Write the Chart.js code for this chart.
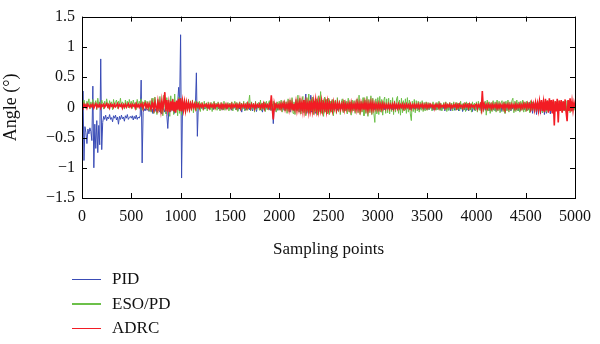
<!DOCTYPE html>
<html>
<head>
<meta charset="utf-8">
<script src="https://cdn.jsdelivr.net/npm/chart.js@4/dist/chart.umd.min.js"></script>
<style>
  html, body { margin: 0; padding: 0; background: #fff; }
  #wrap { position: relative; width: 600px; height: 344px; }
  #legend { position: absolute; left: 72px; top: 267px; font: 17px 'Liberation Serif', serif; color: #111; }
  .row { display: flex; align-items: center; height: 24.5px; }
  .swatch { width: 29px; height: 1.5px; margin-right: 11px; }
</style>
</head>
<body>
<div id="wrap">
  <canvas id="chart" width="600" height="344"></canvas>
  <div id="legend"></div>
</div>
<script>
'use strict'

// sampling index, one value every 10 points
var samples = []
for (var s = 0; s <= 5000; s += 10) samples.push(s)

var xTicks = [0, 500, 1000, 1500, 2000, 2500, 3000, 3500, 4000, 4500, 5000]
var yTicks = [-1.5, -1, -0.5, 0, 0.5, 1, 1.5]

var pid = [
  0.02, 0.27, -0.88, -0.32, -0.42, -0.6, -0.36, -0.44, -0.34, -0.4,
  -0.55, 0.35, -1.0, -0.28, -0.68, -0.22, -0.75, -0.3, -0.62, 0.8,
  -0.7, -0.25, -0.15, -0.2, -0.13, -0.22, -0.16, -0.19, -0.12, -0.2,
  -0.17, -0.24, -0.14, -0.18, -0.13, -0.21, -0.16, -0.28, -0.15, -0.2,
  -0.13, -0.19, -0.16, -0.23, -0.14, -0.18, -0.12, -0.2, -0.17, -0.15,

  -0.18, -0.14, -0.21, -0.15, -0.19, -0.13, -0.2, -0.16, -0.18, -0.14,
  0.45, -0.92, -0.08, -0.02, -0.06, 0.0, -0.05, -0.03, -0.07, -0.02,
  -0.06, -0.03, -0.1, -0.04, -0.07, -0.02, -0.09, -0.05, -0.03, -0.08,
  -0.04, -0.11, -0.05, -0.02, -0.08, -0.04, -0.12, -0.35, -0.06, -0.03,
  -0.07, 0.02, -0.05, 0.04, -0.1, 0.03, -0.04, 0.06, 0.33, 0.05,

  1.2, -1.17, 0.1, 0.04, 0.07, 0.02, 0.06, 0.03, 0.08, 0.01,
  0.05, 0.02, 0.07, 0.03, 0.04, 0.01, 0.57, -0.48, 0.03, 0.0,
  0.02, -0.02, 0.03, 0.0, -0.03, 0.02, -0.01, 0.03, -0.02, 0.01,
  -0.03, 0.02, 0.0, -0.04, 0.01, -0.02, 0.03, -0.01, 0.0, -0.03,
  0.02, -0.01, -0.04, 0.01, 0.0, -0.02, 0.03, -0.03, 0.01, -0.02,

  -0.03, 0.02, -0.05, 0.01, -0.02, 0.03, -0.04, 0.0, -0.06, 0.02,
  -0.03, 0.01, -0.08, 0.02, -0.02, 0.03, -0.05, 0.0, -0.03, 0.02,
  -0.04, 0.01, -0.02, -0.06, 0.02, -0.03, 0.01, -0.07, 0.02, -0.01,
  0.03, -0.04, 0.0, -0.08, 0.02, -0.03, -0.06, 0.01, -0.02, 0.03,
  -0.04, 0.02, -0.05, 0.05, -0.27, 0.02, -0.03, 0.01, -0.05, 0.02,

  0.02, -0.04, 0.03, -0.02, 0.04, -0.05, 0.02, -0.03, 0.05, -0.02,
  0.06, -0.08, 0.04, -0.03, 0.05, -0.06, 0.03, -0.04, 0.07, -0.05,
  0.06, -0.08, 0.04, -0.06, 0.05, -0.03, 0.08, 0.22, -0.1, 0.04,
  0.05, -0.06, 0.2, -0.08, 0.06, -0.04, 0.09, -0.1, 0.05, -0.05,
  0.08, -0.04, 0.05, -0.06, 0.04, -0.03, 0.06, -0.05, 0.03, -0.04,

  0.04, -0.03, 0.06, -0.07, 0.03, -0.04, 0.05, -0.02, 0.03, -0.05,
  0.02, -0.03, 0.04, -0.02, 0.03, -0.04, 0.02, -0.03, 0.03, -0.02,
  0.04, -0.03, 0.02, -0.04, 0.03, -0.02, 0.02, -0.03, 0.04, -0.02,
  0.03, -0.04, 0.02, -0.03, 0.03, -0.02, 0.04, -0.03, 0.02, -0.04,
  0.03, -0.02, 0.02, -0.03, 0.04, -0.02, 0.03, -0.04, 0.02, -0.03,

  0.02, -0.03, 0.03, -0.02, 0.04, -0.03, 0.02, -0.04, 0.03, -0.02,
  0.02, -0.03, 0.04, -0.02, 0.03, -0.04, 0.02, -0.03, 0.03, -0.02,
  0.04, -0.03, 0.02, -0.02, 0.03, -0.04, 0.02, -0.03, 0.04, -0.02,
  0.03, -0.03, 0.02, -0.04, 0.03, -0.02, 0.02, -0.03, 0.04, -0.02,
  0.03, -0.04, 0.02, -0.03, 0.03, -0.02, 0.02, -0.04, 0.03, -0.03,

  -0.03, 0.02, -0.04, 0.03, -0.02, 0.02, -0.05, 0.03, -0.03, 0.02,
  -0.04, 0.03, -0.02, 0.02, -0.05, 0.03, -0.03, 0.02, -0.06, 0.03,
  -0.04, 0.02, -0.05, 0.03, -0.06, 0.02, -0.03, 0.03, -0.05, 0.02,
  -0.04, 0.03, -0.06, 0.02, -0.03, 0.03, -0.07, 0.02, -0.04, 0.03,
  -0.05, 0.02, -0.06, 0.03, -0.04, 0.02, -0.07, 0.03, -0.05, 0.02,

  0.02, -0.05, 0.03, -0.04, 0.02, -0.06, 0.03, -0.03, 0.02, -0.05,
  0.04, -0.04, 0.02, -0.06, 0.03, -0.05, 0.02, -0.04, 0.03, -0.06,
  0.02, -0.05, 0.04, -0.03, 0.02, -0.07, 0.03, -0.04, 0.02, -0.06,
  0.03, -0.05, 0.02, -0.04, 0.04, -0.06, 0.02, -0.03, 0.03, -0.05,
  0.02, -0.04, 0.03, -0.06, 0.02, -0.05, 0.04, -0.03, 0.02, -0.04,

  0.03, -0.05, 0.06, -0.04, 0.08, -0.07, 0.05, -0.1, 0.07, -0.08,
  0.09, -0.12, 0.06, -0.1, 0.08, -0.11, 0.05, -0.09, 0.07, -0.12,
  0.06, -0.1, 0.08, -0.08, 0.05, -0.11, 0.07, -0.09, 0.04, -0.07,
  0.05, -0.06, 0.03, -0.08, 0.04, -0.05, 0.06, -0.04, 0.03, -0.06,
  0.04, -0.05, 0.02, -0.04, 0.05, -0.03, 0.02, -0.05, 0.03, -0.02,
  0.0
]

var esoPd = [
  0.08, 0.0, 0.12, 0.03, -0.02, 0.1, 0.05, 0.14, -0.03, 0.09,
  0.02, 0.13, -0.01, 0.07, 0.11, -0.04, 0.15, 0.04, 0.09, 0.0,
  0.12, 0.06, -0.03, 0.1, 0.02, 0.14, 0.05, -0.02, 0.11, 0.03,
  0.09, -0.04, 0.13, 0.01, 0.08, 0.12, -0.02, 0.1, 0.04, 0.15,
  0.0, 0.09, 0.06, -0.03, 0.12, 0.02, 0.1, -0.01, 0.13, 0.05,

  0.1, -0.02, 0.12, 0.04, 0.08, -0.04, 0.13, 0.01, 0.1, 0.06,
  0.14, -0.05, 0.09, 0.03, 0.12, -0.03, 0.1, 0.05, -0.06, 0.11,
  -0.08, 0.15, 0.02, -0.1, 0.17, 0.04, -0.12, 0.13, -0.06, 0.18,
  -0.09, 0.1, -0.14, 0.2, 0.03, -0.11, 0.16, -0.07, 0.12, -0.15,
  0.19, -0.05, 0.14, -0.12, 0.22, -0.08, 0.1, -0.14, 0.17, -0.1,

  0.15, -0.13, 0.11, -0.06, 0.14, -0.1, 0.08, -0.04, 0.13, -0.08,
  0.1, -0.05, 0.12, -0.09, 0.06, 0.11, -0.06, 0.09, -0.03, 0.1,
  -0.07, 0.08, 0.02, -0.05, 0.1, -0.03, 0.07, -0.06, 0.09, 0.01,
  -0.04, 0.08, -0.07, 0.06, 0.1, -0.03, 0.07, -0.05, 0.09, 0.0,
  -0.06, 0.08, 0.02, -0.04, 0.1, -0.05, 0.06, -0.02, 0.08, -0.06,

  0.07, -0.03, 0.09, -0.06, 0.05, 0.1, -0.04, 0.08, -0.07, 0.06,
  0.09, -0.05, 0.07, -0.03, 0.1, -0.06, 0.04, 0.08, -0.05, 0.07,
  0.2, -0.06, 0.09, -0.03, 0.07, -0.08, 0.1, -0.04, 0.06, 0.08,
  -0.05, 0.12, -0.06, 0.07, -0.03, 0.09, -0.07, 0.1, -0.04, 0.06,
  0.11, -0.05, 0.08, -0.06, 0.1, -0.03, 0.07, -0.08, 0.09, -0.05,

  0.1, -0.05, 0.12, -0.08, 0.07, 0.11, -0.06, 0.09, -0.1, 0.14,
  -0.07, 0.12, -0.04, 0.16, -0.1, 0.09, -0.12, 0.13, -0.06, 0.2,
  -0.08, 0.15, -0.11, 0.1, 0.18, -0.09, 0.12, -0.14, 0.16, -0.07,
  0.22, -0.1, 0.13, -0.06, 0.17, -0.12, 0.1, -0.08, 0.14, -0.13,
  0.19, -0.07, 0.26, -0.1, 0.12, -0.15, 0.17, -0.08, 0.13, -0.11,

  0.15, -0.12, 0.1, -0.08, 0.13, -0.14, 0.09, 0.12, -0.1, 0.16,
  -0.07, 0.11, -0.12, 0.08, 0.14, -0.09, 0.12, -0.06, 0.1, -0.11,
  0.15, -0.08, 0.09, -0.13, 0.12, -0.06, 0.11, -0.1, 0.08, 0.14,
  -0.09, 0.2, -0.12, 0.1, -0.08, 0.16, -0.14, 0.12, -0.1, 0.18,
  -0.15, 0.13, -0.09, 0.19, -0.12, 0.15, -0.1, -0.25, 0.14, -0.11,

  0.16, -0.12, 0.18, -0.08, 0.13, -0.13, 0.11, 0.17, -0.1, 0.14,
  -0.09, 0.15, -0.11, 0.12, -0.07, 0.16, -0.12, 0.1, -0.08, 0.14,
  0.18, -0.1, 0.12, -0.13, 0.15, -0.09, 0.11, -0.06, 0.14, -0.1,
  0.16, -0.08, 0.12, -0.11, -0.22, 0.1, -0.07, 0.13, -0.09, 0.11,
  -0.06, 0.1, -0.08, 0.09, -0.05, 0.11, -0.07, 0.08, -0.06, 0.09,

  -0.05, 0.08, -0.04, 0.07, 0.02, -0.06, 0.09, -0.03, 0.06, -0.05,
  0.08, -0.04, 0.1, -0.05, 0.07, -0.06, 0.03, 0.08, -0.04, 0.09,
  -0.07, 0.06, -0.05, 0.08, -0.03, 0.07, -0.06, 0.09, 0.01, -0.05,
  0.08, -0.04, 0.07, -0.06, 0.1, -0.03, 0.06, -0.05, 0.08, -0.07,
  0.09, -0.04, 0.07, -0.05, 0.06, -0.08, 0.09, -0.03, 0.07, -0.06,

  0.09, -0.08, 0.1, -0.05, 0.08, -0.1, 0.11, -0.07, 0.06, 0.1,
  -0.13, 0.12, -0.06, 0.09, -0.1, 0.08, -0.07, 0.11, -0.05, 0.09,
  -0.08, 0.12, -0.06, 0.1, -0.09, 0.07, 0.11, -0.07, 0.09, -0.1,
  0.1, -0.06, 0.12, -0.08, 0.09, -0.05, 0.11, 0.15, -0.09, 0.1,
  -0.07, 0.12, -0.06, 0.09, -0.08, 0.1, -0.05, 0.12, -0.08, 0.09,

  -0.07, 0.1, -0.06, 0.08, -0.09, 0.11, -0.05, 0.09, 0.03, -0.08,
  0.07, -0.06, 0.1, -0.07, 0.12, -0.05, 0.08, -0.09, 0.1, -0.06,
  0.09, -0.08, 0.11, -0.05, 0.08, -0.06, 0.12, -0.07, 0.09, -0.1,
  0.1, -0.06, 0.08, -0.09, 0.11, -0.05, 0.07, -0.08, 0.1, -0.06,
  0.09, -0.07, 0.11, -0.05, 0.08, -0.09, 0.1, -0.06, 0.08, -0.05,
  0.03
]

var adrc = [
  0.03, 0.0, 0.05, 0.01, 0.04, -0.01, 0.05, 0.02, 0.0, 0.04,
  0.01, 0.05, -0.01, 0.03, 0.06, 0.0, 0.04, 0.01, 0.05, -0.01,
  0.04, 0.02, 0.05, 0.0, 0.03, 0.06, 0.01, 0.04, -0.01, 0.05,
  0.02, 0.04, 0.0, 0.05, 0.01, 0.03, 0.06, 0.0, 0.04, 0.02,
  0.05, -0.01, 0.04, 0.01, 0.05, 0.0, 0.03, 0.06, 0.01, 0.04,

  0.0, 0.05, 0.02, 0.04, -0.01, 0.06, 0.01, 0.04, 0.0, 0.05,
  0.02, 0.06, -0.02, 0.04, 0.07, 0.0, 0.05, -0.01, 0.06, 0.02,
  -0.03, 0.08, 0.01, -0.04, 0.09, 0.0, -0.05, 0.1, -0.02, 0.07,
  -0.06, 0.11, -0.03, 0.09, 0.25, -0.07, 0.12, -0.04, 0.08, -0.08,
  0.1, -0.05, 0.13, -0.07, 0.09, -0.09, 0.11, -0.04, 0.14, -0.06,

  0.15, -0.07, 0.1, -0.04, 0.09, -0.05, 0.08, -0.02, 0.07, -0.03,
  0.06, -0.01, 0.07, 0.0, 0.05, -0.02, 0.06, 0.01, 0.05, -0.01,
  0.04, 0.01, 0.05, -0.01, 0.04, 0.02, 0.05, 0.0, 0.04, -0.01,
  0.05, 0.01, 0.04, 0.0, 0.05, -0.01, 0.04, 0.02, 0.05, 0.0,
  0.04, -0.01, 0.05, 0.01, 0.04, 0.0, 0.05, -0.01, 0.04, 0.01,

  0.04, -0.01, 0.05, 0.0, 0.04, 0.01, 0.05, -0.01, 0.04, 0.0,
  0.05, -0.02, 0.04, 0.01, 0.05, 0.0, 0.04, -0.01, 0.06, 0.0,
  0.04, -0.01, 0.05, 0.01, 0.04, -0.02, 0.05, 0.0, 0.04, 0.01,
  0.05, -0.01, 0.04, 0.0, 0.06, -0.02, 0.05, 0.01, 0.04, -0.01,
  0.05, 0.0, 0.2, -0.03, -0.2, 0.06, -0.02, 0.05, 0.0, 0.04,

  -0.01, 0.05, -0.02, 0.06, 0.0, 0.07, -0.03, 0.05, -0.02, 0.06,
  -0.04, 0.08, -0.02, 0.07, -0.04, 0.06, -0.03, 0.09, -0.05, 0.07,
  -0.03, 0.1, -0.04, 0.08, -0.06, 0.12, -0.05, 0.09, -0.04, 0.07,
  -0.07, 0.11, -0.05, 0.08, -0.06, 0.1, -0.03, 0.12, -0.05, 0.08,
  -0.06, 0.09, -0.04, 0.1, -0.05, 0.07, -0.03, 0.08, -0.06, 0.09,

  -0.04, 0.07, -0.03, 0.06, -0.05, 0.08, -0.02, 0.06, -0.04, 0.07,
  -0.02, 0.06, -0.03, 0.05, -0.02, 0.07, -0.04, 0.06, -0.03, 0.05,
  -0.02, 0.06, -0.04, 0.07, -0.03, 0.05, -0.02, 0.06, -0.04, 0.08,
  -0.03, 0.06, -0.05, 0.07, -0.02, 0.06, -0.04, 0.08, -0.03, 0.07,
  -0.05, 0.06, -0.02, 0.08, -0.04, 0.07, -0.03, 0.06, -0.02, 0.05,

  -0.03, 0.06, -0.02, 0.05, -0.03, 0.06, -0.01, 0.05, -0.02, 0.04,
  -0.01, 0.05, -0.02, 0.04, -0.01, 0.05, -0.02, 0.06, -0.01, 0.04,
  -0.02, 0.05, -0.01, 0.04, 0.0, 0.05, -0.02, 0.04, -0.01, 0.05,
  0.0, 0.04, -0.01, 0.05, -0.02, 0.04, 0.0, 0.05, -0.01, 0.04,
  0.0, 0.05, -0.01, 0.04, 0.01, 0.05, -0.01, 0.04, 0.0, 0.05,

  -0.01, 0.04, 0.0, 0.05, 0.01, 0.04, -0.01, 0.03, 0.0, 0.05,
  0.01, 0.04, -0.01, 0.05, 0.0, 0.03, 0.01, 0.04, -0.01, 0.05,
  0.0, 0.04, 0.01, 0.05, -0.01, 0.03, 0.0, 0.04, 0.01, 0.05,
  -0.01, 0.04, 0.0, 0.05, 0.01, 0.03, -0.01, 0.04, 0.0, 0.05,
  0.01, 0.04, -0.01, 0.05, 0.0, 0.04, 0.01, 0.03, -0.01, 0.04,

  0.05, -0.02, 0.04, 0.01, 0.05, -0.03, 0.27, -0.02, 0.05, -0.01,
  0.04, -0.02, 0.05, 0.0, 0.04, -0.02, 0.05, -0.01, 0.04, 0.0,
  0.05, -0.02, 0.04, -0.01, 0.05, 0.0, 0.04, -0.02, 0.05, -0.01,
  0.04, 0.0, 0.05, -0.02, 0.04, -0.01, 0.05, 0.0, 0.04, -0.02,
  0.05, -0.01, 0.04, 0.0, 0.05, -0.02, 0.04, -0.01, 0.06, 0.0,

  0.05, -0.02, 0.06, 0.0, 0.05, -0.03, 0.07, -0.01, 0.06, -0.04,
  0.08, -0.02, 0.07, -0.05, 0.1, -0.03, 0.12, -0.06, 0.09, -0.08,
  0.14, -0.05, 0.11, -0.09, 0.15, -0.06, 0.12, -0.1, 0.13, -0.3,
  0.1, -0.07, 0.14, -0.25, 0.11, -0.06, 0.12, -0.09, 0.1, -0.05,
  0.13, -0.08, -0.23, 0.12, -0.06, 0.15, -0.07, 0.1, -0.05, 0.08,
  0.0
]

var seriesNames = ['PID', 'ESO/PD', 'ADRC']
var seriesColors = ['#3a4cb6', '#6cc04a', '#f21c24']

function toPoints(values) {
  return samples.map(function(x, i) { return { x: x, y: values[i] } })
}

function fmt(v) {
  return v < 0 ? '\u2212' + Math.abs(v) : String(v)
}

var serif = "'Liberation Serif', 'Times New Roman', serif"

// box frame plus inward ticks on all four sides
var frameTicks = {
  id: 'frameTicks',
  afterDraw: function(chart) {
    var ctx = chart.ctx
    var a = chart.chartArea
    var xs = chart.scales.x
    var ys = chart.scales.y
    var len = 5
    ctx.save()
    ctx.strokeStyle = '#000'
    ctx.lineWidth = 1
    ctx.strokeRect(Math.round(a.left) + 0.5, Math.round(a.top) + 0.5, Math.round(a.right - a.left), Math.round(a.bottom - a.top))
    ctx.beginPath()
    xTicks.forEach(function(t) {
      var px = Math.round(xs.getPixelForValue(t)) + 0.5
      ctx.moveTo(px, a.bottom); ctx.lineTo(px, a.bottom - len)
      ctx.moveTo(px, a.top); ctx.lineTo(px, a.top + len)
    })
    yTicks.forEach(function(t) {
      var py = Math.round(ys.getPixelForValue(t)) + 0.5
      ctx.moveTo(a.left, py); ctx.lineTo(a.left + len, py)
      ctx.moveTo(a.right, py); ctx.lineTo(a.right - len, py)
    })
    ctx.stroke()
    ctx.restore()
  }
}

var chart = new Chart(document.getElementById('chart').getContext('2d'), {
  type: 'line',
  data: {
    datasets: [
      { label: seriesNames[0], data: toPoints(pid), borderColor: seriesColors[0], borderWidth: 1, order: 3 },
      { label: seriesNames[1], data: toPoints(esoPd), borderColor: seriesColors[1], borderWidth: 1, order: 2 },
      { label: seriesNames[2], data: toPoints(adrc), borderColor: seriesColors[2], borderWidth: 1.6, order: 1 }
    ]
  },
  options: {
    responsive: false,
    animation: false,
    layout: { padding: { left: 0, right: 20, top: 11, bottom: 84 } },
    elements: {
      line: { tension: 0 },
      point: { radius: 0 }
    },
    plugins: { legend: { display: false }, tooltip: { enabled: false } },
    scales: {
      x: {
        type: 'linear',
        min: 0, max: 5000,
        grid: { display: false, drawTicks: false },
        border: { display: false },
        ticks: { stepSize: 500, padding: 9, color: '#111', font: { family: serif, size: 16 }, maxRotation: 0,
          callback: function(v) { return String(v) } },
        title: { display: true, text: 'Sampling points', color: '#111', font: { family: serif, size: 17 }, padding: 0 },
        afterFit: function(scale) { scale.height = 62 }
      },
      y: {
        min: -1.5, max: 1.5,
        grid: { display: false, drawTicks: false },
        border: { display: false },
        ticks: { stepSize: 0.5, padding: 7, color: '#111', font: { family: serif, size: 16 }, callback: fmt },
        title: { display: true, text: 'Angle (°)', color: '#111', font: { family: serif, size: 18 }, padding: 0 },
        afterFit: function(scale) { scale.width = 82 }
      }
    }
  },
  plugins: [frameTicks]
})

// legend stacked under the axis title
var legend = document.getElementById('legend')
chart.data.datasets.forEach(function(ds) {
  var row = document.createElement('div')
  row.className = 'row'
  var sw = document.createElement('span')
  sw.className = 'swatch'
  sw.style.background = ds.borderColor
  var label = document.createElement('span')
  label.textContent = ds.label
  row.appendChild(sw)
  row.appendChild(label)
  legend.appendChild(row)
})
</script>
</body>
</html>
